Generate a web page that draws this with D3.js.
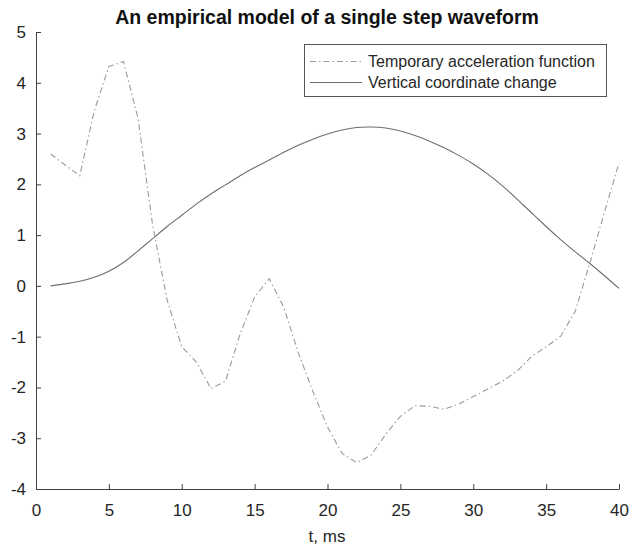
<!DOCTYPE html>
<html>
<head>
<meta charset="utf-8">
<script src="https://cdn.jsdelivr.net/npm/d3@7"></script>
<style>
  html, body { margin: 0; padding: 0; background: #fff; }
  svg { display: block; font-family: "Liberation Sans", Arial, sans-serif; }
</style>
</head>
<body>
<svg id="chart" width="640" height="547"></svg>
<script>
const title = "An empirical model of a single step waveform";
const xLabel = "t, ms";
const seriesNames = ["Temporary acceleration function", "Vertical coordinate change"];
const tValues = d3.range(1, 41);
const accel = [2.60, 2.38, 2.17, 3.45, 4.32, 4.42, 3.30, 1.20, -0.28, -1.20,
               -1.50, -2.02, -1.88, -0.95, -0.22, 0.14, -0.42, -1.32, -2.08, -2.78,
               -3.30, -3.48, -3.33, -2.92, -2.57, -2.36, -2.37, -2.43, -2.33, -2.18,
               -2.03, -1.88, -1.68, -1.39, -1.20, -0.99, -0.50, 0.45, 1.45, 2.42];
const vertical = [0.00, 0.04, 0.09, 0.17, 0.29, 0.46, 0.69, 0.93, 1.17, 1.39,
                  1.61, 1.81, 1.99, 2.17, 2.33, 2.48, 2.63, 2.77, 2.89, 2.99,
                  3.07, 3.12, 3.13, 3.11, 3.05, 2.96, 2.85, 2.72, 2.57, 2.40,
                  2.20, 1.97, 1.71, 1.44, 1.17, 0.91, 0.67, 0.44, 0.20, -0.05];
const xTicks = [0, 5, 10, 15, 20, 25, 30, 35, 40];
const yTicks = [-4, -3, -2, -1, 0, 1, 2, 3, 4, 5];

const svg = d3.select("#chart");
const x = d3.scaleLinear().domain([0, 40]).range([36, 619]);
const y = d3.scaleLinear().domain([-4, 5]).range([489, 32]);
const axisColor = "#404040";
const fmt = d => String(d);

// axes
const gx = svg.append("g").attr("transform", `translate(0,${y(-4)})`)
  .call(d3.axisBottom(x).tickValues(xTicks).tickFormat(fmt).tickSizeInner(-5).tickSizeOuter(0).tickPadding(15));
const gy = svg.append("g").attr("transform", `translate(${x(0)},0)`)
  .call(d3.axisLeft(y).tickValues(yTicks).tickFormat(fmt).tickSizeInner(-5).tickSizeOuter(0).tickPadding(10));
[gx, gy].forEach(g => {
  g.select(".domain").attr("stroke", axisColor).attr("stroke-width", 1);
  g.selectAll(".tick line").attr("stroke", axisColor);
  g.selectAll(".tick text").attr("fill", "#262626").style("font-size", "17px")
    .style("font-family", "'Liberation Sans', Arial, sans-serif");
});

const dashPattern = "6,3,1.5,3";
const accelColor = "#9a9a9a";
const vertColor = "#6e6e6e";

svg.append("path").datum(vertical)
  .attr("fill", "none").attr("stroke", vertColor).attr("stroke-width", 1.1)
  .attr("d", d3.line().x((d, i) => x(tValues[i])).y(d => y(d)).curve(d3.curveNatural));

svg.append("path").datum(accel)
  .attr("fill", "none").attr("stroke", accelColor).attr("stroke-width", 1.1)
  .attr("stroke-dasharray", dashPattern)
  .attr("d", d3.line().x((d, i) => x(tValues[i])).y(d => y(d)));

// title
svg.append("text").attr("x", 327).attr("y", 24).attr("text-anchor", "middle")
  .style("font-size", "19.5px").style("font-weight", "bold").attr("fill", "#111")
  .text(title);

// x label
svg.append("text").attr("x", 327).attr("y", 542).attr("text-anchor", "middle")
  .style("font-size", "17px").attr("fill", "#262626").text(xLabel);

// legend
const lg = svg.append("g");
lg.append("rect").attr("x", 304.5).attr("y", 44.5).attr("width", 302).attr("height", 52)
  .attr("fill", "#fff").attr("stroke", "#555").attr("stroke-width", 1);
const rows = [
  {name: seriesNames[0], color: accelColor, dash: dashPattern, cy: 61.5},
  {name: seriesNames[1], color: vertColor, dash: null, cy: 82.5}
];
rows.forEach(r => {
  lg.append("line").attr("x1", 310).attr("x2", 362).attr("y1", r.cy).attr("y2", r.cy)
    .attr("stroke", r.color).attr("stroke-width", 1.1)
    .attr("stroke-dasharray", r.dash);
  lg.append("text").attr("x", 368).attr("y", r.cy).attr("dy", "0.35em")
    .style("font-size", "16px").attr("fill", "#262626").text(r.name);
});
</script>
</body>
</html>
